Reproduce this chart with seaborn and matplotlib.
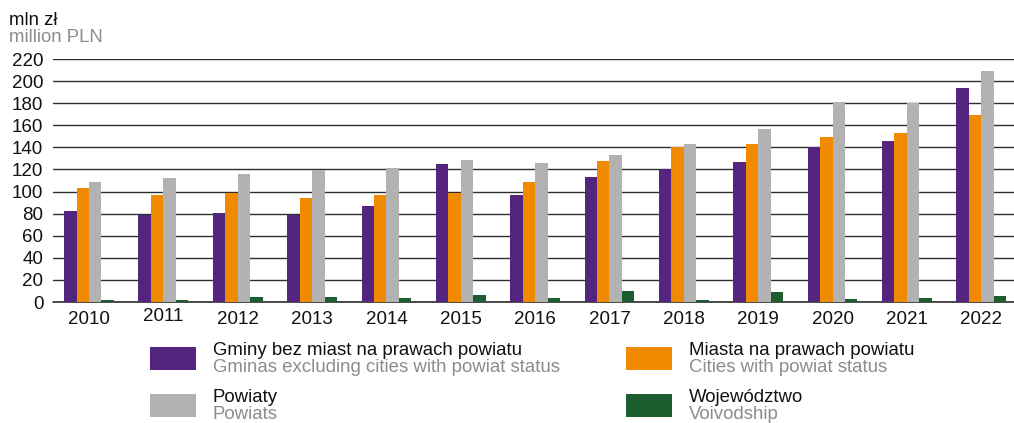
import matplotlib
matplotlib.use("Agg")
import matplotlib.pyplot as plt
import matplotlib.patches as mpatches
import matplotlib.transforms as mtransforms
import seaborn as sns
import pandas as pd
import numpy as np

years = ["2010", "2011", "2012", "2013", "2014", "2015", "2016", "2017", "2018", "2019", "2020", "2021", "2022"]
gminy = [82.5, 78.6, 80.4, 79.2, 86.8, 125.3, 96.6, 112.9, 120.3, 127.2, 140.0, 145.7, 193.8]
miasta = [103.0, 97.0, 98.8, 94.3, 96.6, 98.6, 108.6, 127.4, 140.0, 142.8, 149.1, 152.8, 169.2]
powiaty = [108.5, 112.0, 115.8, 119.4, 121.3, 128.3, 125.8, 133.5, 143.4, 156.7, 181.0, 180.0, 209.0]
wojewodztwo = [2.2, 1.5, 4.3, 4.3, 3.8, 5.9, 3.8, 9.7, 1.5, 9.3, 2.8, 4.0, 5.0]

series_pl = ["Gminy bez miast na prawach powiatu", "Miasta na prawach powiatu", "Powiaty", "Województwo"]
series_en = ["Gminas excluding cities with powiat status", "Cities with powiat status", "Powiats", "Voivodship"]
colors = ["#53257f", "#f08a00", "#b2b2b2", "#1c5e30"]
yticks = [0, 20, 40, 60, 80, 100, 120, 140, 160, 180, 200, 220]

rows = []
for name, vals in zip(series_pl, [gminy, miasta, powiaty, wojewodztwo]):
    for y, v in zip(years, vals):
        rows.append({"year": y, "series": name, "value": v})
df = pd.DataFrame(rows)

sns.set_theme(style="white")
plt.rcParams["font.family"] = ["Liberation Sans", "DejaVu Sans"]

W, H = 1014, 423
fig = plt.figure(figsize=(W / 100, H / 100), dpi=100)
ax_left, ax_right = 53, 1014
ax_top, ax_bot = 59, 302
ax = fig.add_axes([ax_left / W, 1 - ax_bot / H, (ax_right - ax_left) / W, (ax_bot - ax_top) / H])

sns.barplot(data=df, x="year", y="value", hue="series", hue_order=series_pl,
            palette=colors, width=0.67, dodge=True, ax=ax, legend=False,
            saturation=1, errorbar=None, linewidth=0, zorder=3)

ax.set_ylim(0, 220)
ax.set_xlim(-0.484, 12.44)
ax.set_yticks(yticks)
ax.set_yticklabels([str(t) for t in yticks], fontsize=13.5, color="#111111")
ax.tick_params(axis="y", length=0, pad=7)
ax.tick_params(axis="x", length=0, pad=6.5, labelsize=13.5, labelcolor="#111111")
ax.set_xlabel("")
ax.set_ylabel("")
ax.grid(axis="y", color="#2e2e2e", linewidth=1, zorder=0)
ax.set_axisbelow(True)
for s in ax.spines.values():
    s.set_visible(False)
ax.axhline(0, color="#2e2e2e", linewidth=1.2, zorder=1, clip_on=False)

# 2011 label sits slightly higher in the original
lbl = ax.get_xticklabels()[1]
lbl.set_transform(lbl.get_transform() + mtransforms.ScaledTranslation(0, 3 / 100, fig.dpi_scale_trans))

# header
fig.text(9 / W, 1 - 25 / H, "mln zł", fontsize=13.4, color="#111111", va="baseline")
fig.text(9 / W, 1 - 42.5 / H, "million PLN", fontsize=13.4, color="#8c8c8c", va="baseline")

# legend
legend_pos = [(150, 347, 213), (626, 347, 689), (150, 394, 213), (626, 394, 689)]
for (px, py, tx), i in zip(legend_pos, range(4)):
    fig.patches.append(mpatches.Rectangle((px / W, 1 - (py + 23) / H), 46 / W, 23 / H,
                                          transform=fig.transFigure, color=colors[i], linewidth=0))
    fig.text(tx / W, 1 - (py + 8) / H, series_pl[i], fontsize=13.4, color="#111111", va="baseline")
    fig.text(tx / W, 1 - (py + 25) / H, series_en[i], fontsize=13.4, color="#8c8c8c", va="baseline")

fig.savefig("out.png", dpi=100)
